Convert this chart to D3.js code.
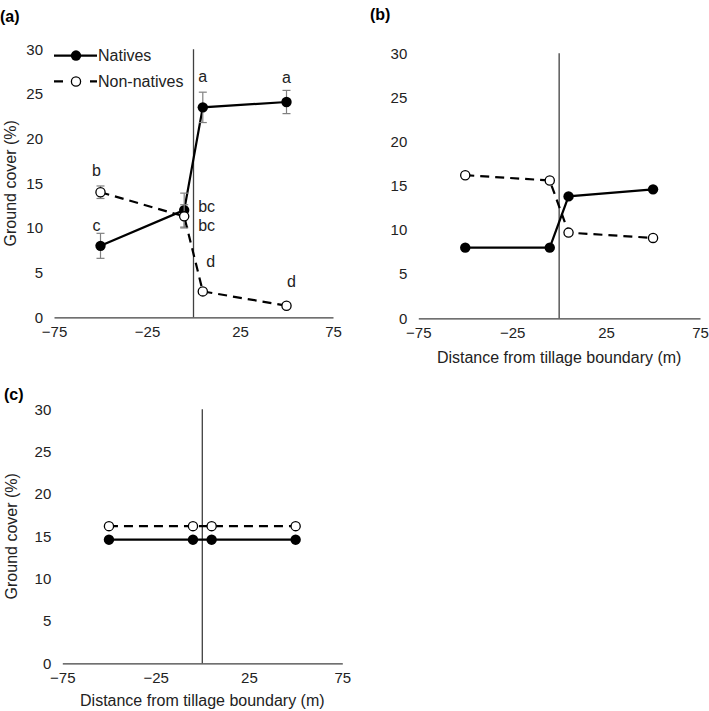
<!DOCTYPE html>
<html>
<head>
<meta charset="utf-8">
<script src="https://cdn.jsdelivr.net/npm/d3@7"></script>
<style>
  html, body { margin: 0; padding: 0; background: #fff; }
  svg { display: block; font-family: "Liberation Sans", Arial, sans-serif; }
</style>
</head>
<body>
<svg id="chart" width="709" height="711"></svg>
<script>
// ---- Data ----
const distances = [-50, -5, 5, 50];
const xTicks = [-75, -25, 25, 75];
const yTicks = [0, 5, 10, 15, 20, 25, 30];
const seriesNames = ["Natives", "Non-natives"];

const nativesA = [8.0, 12.0, 23.5, 24.1];
const nativesErrA = [1.4, 1.9, 1.7, 1.3];
const nonNativesA = [14.0, 11.3, 2.9, 1.3];
const nonNativesErrA = [0.7, 1.3, 0, 0];
const nativesLettersA = ["c", "bc", "a", "a"];
const nonNativesLettersA = ["b", "bc", "d", "d"];

const nativesB = [8.0, 8.0, 13.8, 14.6];
const nonNativesB = [16.2, 15.6, 9.7, 9.1];

const nativesC = [14.6, 14.6, 14.6, 14.6];
const nonNativesC = [16.2, 16.2, 16.2, 16.2];

const xLabel = "Distance from tillage boundary (m)";
const yLabel = "Ground cover (%)";

// ---- Layout / style ----
const svg = d3.select("#chart");
const FONT_TICK = 15, FONT_TITLE = 16;

// letter offsets (px) relative to each point: [dx, dy, anchor]
const nativesLetterOffsets = [[-4, -15, "middle"], [14, 2, "start"], [0, -25, "middle"], [0, -19, "middle"]];
const nonNativesLetterOffsets = [[-4, -16, "middle"], [14, 15, "start"], [8, -24, "middle"], [5, -19, "middle"]];

function drawPanel(cfg) {
  const g = svg.append("g");
  const x = d3.scaleLinear().domain([-75, 75]).range([cfg.left, cfg.right]);
  const y = d3.scaleLinear().domain([0, 30]).range([cfg.bottom, cfg.top]);

  // panel tag
  g.append("text").attr("x", cfg.tagX).attr("y", cfg.tagY)
    .attr("font-size", 16).attr("font-weight", "bold").attr("fill", "#000").text(cfg.tag);

  // x axis
  const xAxis = d3.axisBottom(x).tickValues(xTicks).tickSize(0).tickPadding(8)
    .tickFormat(d3.format("d"));
  const xg = g.append("g").attr("transform", `translate(0,${y(0)})`).call(xAxis);
  xg.select(".domain").attr("stroke", "#404040").attr("stroke-width", 1.3);
  xg.selectAll("text").attr("font-size", FONT_TICK).attr("fill", "#222")
    .attr("font-family", "Liberation Sans, Arial, sans-serif").attr("dy", "0.75em");

  // y axis (labels only)
  const yAxis = d3.axisLeft(y).tickValues(yTicks).tickSize(0).tickPadding(11);
  const yg = g.append("g").attr("transform", `translate(${cfg.left},0)`).call(yAxis);
  yg.select(".domain").remove();
  yg.selectAll("text").attr("font-size", FONT_TICK).attr("fill", "#222")
    .attr("font-family", "Liberation Sans, Arial, sans-serif");

  // vertical boundary line
  g.append("line").attr("x1", x(0)).attr("x2", x(0)).attr("y1", y(0)).attr("y2", y(30))
    .attr("stroke", "#404040").attr("stroke-width", 1.3);

  if (cfg.showYLabel) {
    g.append("text").attr("transform", `translate(${cfg.yLabelX},${(cfg.top + cfg.bottom) / 2}) rotate(-90)`)
      .attr("text-anchor", "middle").attr("font-size", FONT_TITLE).attr("fill", "#222").text(yLabel);
  }
  if (cfg.showXLabel) {
    g.append("text").attr("x", (cfg.left + cfg.right) / 2).attr("y", cfg.xLabelY)
      .attr("text-anchor", "middle").attr("font-size", FONT_TITLE).attr("fill", "#222").text(xLabel);
  }

  const line = d3.line().x((d, i) => x(distances[i])).y(d => y(d));

  // error bars
  function errBars(vals, errs) {
    if (!errs) return;
    vals.forEach((v, i) => {
      const e = errs[i];
      if (!e) return;
      const cx = x(distances[i]);
      g.append("line").attr("x1", cx).attr("x2", cx).attr("y1", y(v - e)).attr("y2", y(v + e))
        .attr("stroke", "#808080").attr("stroke-width", 1.2);
      [v - e, v + e].forEach(t => {
        g.append("line").attr("x1", cx - 4).attr("x2", cx + 4).attr("y1", y(t)).attr("y2", y(t))
          .attr("stroke", "#808080").attr("stroke-width", 1.2);
      });
    });
  }

  // natives
  g.append("path").datum(cfg.natives).attr("d", line).attr("fill", "none")
    .attr("stroke", "#000").attr("stroke-width", 2.2);
  errBars(cfg.natives, cfg.nativesErr);
  g.selectAll(null).data(cfg.natives).enter().append("circle")
    .attr("cx", (d, i) => x(distances[i])).attr("cy", d => y(d)).attr("r", 5.2).attr("fill", "#000");

  // non-natives
  g.append("path").datum(cfg.nonNatives).attr("d", line).attr("fill", "none")
    .attr("stroke", "#000").attr("stroke-width", 2.2).attr("stroke-dasharray", "9,6");
  errBars(cfg.nonNatives, cfg.nonNativesErr);
  g.selectAll(null).data(cfg.nonNatives).enter().append("circle")
    .attr("cx", (d, i) => x(distances[i])).attr("cy", d => y(d)).attr("r", 4.6)
    .attr("fill", "#fff").attr("stroke", "#000").attr("stroke-width", 1.3);

  // significance letters
  function letters(vals, labs, offs) {
    if (!labs) return;
    vals.forEach((v, i) => {
      g.append("text").attr("x", x(distances[i]) + offs[i][0]).attr("y", y(v) + offs[i][1])
        .attr("text-anchor", offs[i][2]).attr("font-size", FONT_TITLE).attr("fill", "#222").text(labs[i]);
    });
  }
  letters(cfg.natives, cfg.nativesLetters, nativesLetterOffsets);
  letters(cfg.nonNatives, cfg.nonNativesLetters, nonNativesLetterOffsets);

  // legend
  if (cfg.legend) {
    const lx0 = cfg.left, lx1 = cfg.left + 43, lcx = cfg.left + 22;
    const ly = [y(29.3), y(26.4)];
    g.append("line").attr("x1", lx0).attr("x2", lx1).attr("y1", ly[0]).attr("y2", ly[0])
      .attr("stroke", "#000").attr("stroke-width", 2.2);
    g.append("circle").attr("cx", lcx).attr("cy", ly[0]).attr("r", 5.2).attr("fill", "#000");
    g.append("line").attr("x1", lx0).attr("x2", lx1).attr("y1", ly[1]).attr("y2", ly[1])
      .attr("stroke", "#000").attr("stroke-width", 2.2).attr("stroke-dasharray", "9,27");
    g.append("circle").attr("cx", lcx).attr("cy", ly[1]).attr("r", 4.6)
      .attr("fill", "#fff").attr("stroke", "#000").attr("stroke-width", 1.3);
    seriesNames.forEach((n, i) => {
      g.append("text").attr("x", lx1 + 1).attr("y", ly[i]).attr("dy", "0.35em")
        .attr("font-size", FONT_TITLE).attr("fill", "#222").text(n);
    });
  }
}

drawPanel({
  tag: "(a)", tagX: 0, tagY: 22,
  left: 54, right: 333, top: 49.3, bottom: 317.3,
  natives: nativesA, nativesErr: nativesErrA, nonNatives: nonNativesA, nonNativesErr: nonNativesErrA,
  nativesLetters: nativesLettersA, nonNativesLetters: nonNativesLettersA,
  showYLabel: true, yLabelX: 16, showXLabel: false, legend: true
});
drawPanel({
  tag: "(b)", tagX: 370, tagY: 20,
  left: 418.3, right: 700, top: 53.3, bottom: 318.3,
  natives: nativesB, nonNatives: nonNativesB,
  showYLabel: false, showXLabel: true, xLabelY: 363, legend: false
});
drawPanel({
  tag: "(c)", tagX: 4, tagY: 400,
  left: 62.3, right: 342.3, top: 409.3, bottom: 663.3,
  natives: nativesC, nonNatives: nonNativesC,
  showYLabel: true, yLabelX: 17, showXLabel: true, xLabelY: 706, legend: false
});
</script>
</body>
</html>
